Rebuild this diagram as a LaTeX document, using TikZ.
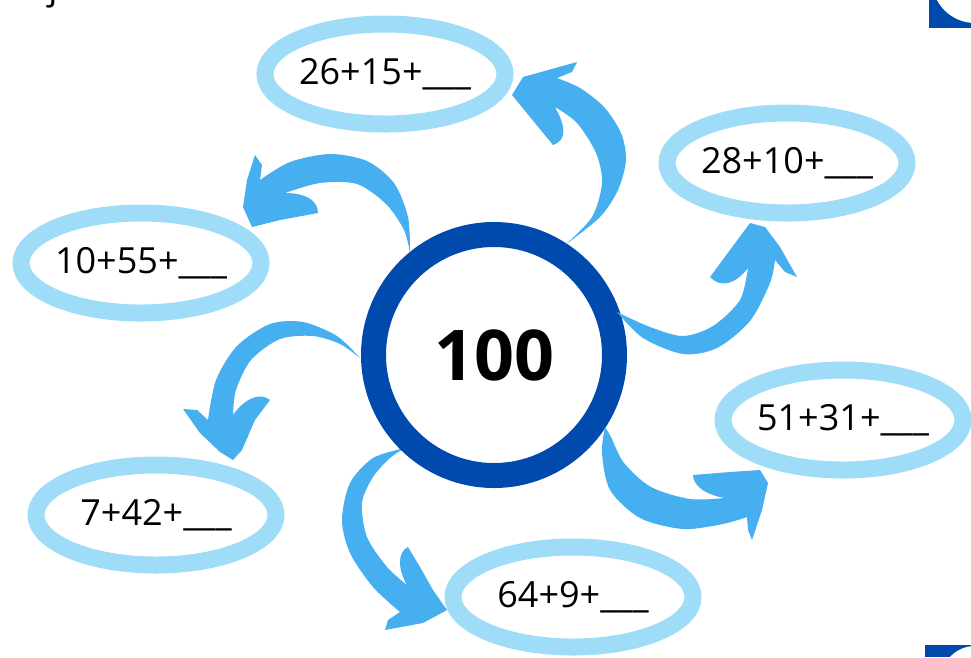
\documentclass[tikz,border=0pt]{standalone}
\usepackage{fontspec}
\setmainfont{Open Sans}
\usepackage{tikz}
\usetikzlibrary{shapes.geometric}
\definecolor{hubblue}{RGB}{0,74,173}
\definecolor{arrowblue}{RGB}{69,175,240}
\definecolor{ringblue}{RGB}{158,220,248}
\tikzset{
    hub/.style={circle, draw=hubblue, line width=25pt, fill=white, inner sep=0pt, minimum size=241pt, font=\fontsize{70}{80}\selectfont\bfseries},
    sum/.style={ellipse, draw=ringblue, line width=17pt, fill=white, inner xsep=-40pt, inner ysep=-8pt, minimum width=240pt, minimum height=100pt, font=\fontsize{36}{40}\selectfont},
    swoosh/.style={fill=arrowblue},
    corner/.style={fill=hubblue}
}

\begin{document}
\begin{tikzpicture}[x=1pt, y=-1pt]
\useasboundingbox (0,0) rectangle (971,657);

% Arrow to 64+9+ (runs under its ring)
\fill[swoosh] plot[smooth] coordinates {(405,448) (373,458) (350,483) (342,520) (350,553) (373,587) (400,612)}
    -- (388,620) -- (385,630) -- (423,623) -- (447,610) -- (433,590) -- (420,567) -- (408,547)
    .. controls (397,552) and (398,570) .. (407,585)
    -- plot[smooth] coordinates {(407,585) (387,567) (367,537) (362,503) (373,477) (390,458) (405,448)} -- cycle;

% Sums around the hub
\node[sum] (q1) at (385,74) {26+15+\_\_\_};
\node[sum] (q2) at (787,163) {28+10+\_\_\_};
\node[sum] (q3) at (141,263) {10+55+\_\_\_};
\node[sum] (q4) at (843,420) {51+31+\_\_\_};
\node[sum] (q5) at (156,515) {7+42+\_\_\_};
\node[sum] (q6) at (573,597) {64+9+\_\_\_};

% Hub
\node[hub] (hub) at (494,355) {100};

% Arrows
% to 26+15+
\fill[swoosh] plot[smooth] coordinates {(565,245) (600,217) (618,190) (626,160) (621,133) (604,107) (580,88) (557,78)}
    -- (572,72) -- (577,62) -- (523,77) -- (512,95) -- (553,145)
    .. controls (568,140) and (565,125) .. (555,107)
    -- plot[smooth] coordinates {(555,107) (577,123) (596,153) (602,183) (592,217) (565,245)} -- cycle;
% to 28+10+
\fill[swoosh] plot[smooth] coordinates {(617,312) (643,338) (683,354) (717,348) (750,321) (770,283) (775,260)}
    -- (785,272) -- (797,277) -- (780,247) -- (765,227) -- (750,223) -- (710,277)
    .. controls (720,288) and (735,285) .. (748,268)
    -- plot[smooth] coordinates {(748,268) (740,300) (713,326) (683,336) (650,327) (617,312)} -- cycle;
% to 10+55+
\fill[swoosh] plot[smooth] coordinates {(410,253) (408,217) (394,183) (367,161) (330,154) (290,162) (260,180)}
    -- (262,165) -- (255,155) -- (247,180) -- (243,207) -- (252,227) -- (280,220) -- (318,213)
    .. controls (318,200) and (305,193) .. (285,193)
    -- plot[smooth] coordinates {(285,193) (320,183) (357,184) (386,204) (404,230) (410,253)} -- cycle;
% to 7+42+
\fill[swoosh] plot[smooth] coordinates {(360,358) (337,336) (303,322) (270,324) (237,346) (216,380) (208,420)}
    -- (197,410) -- (183,409) -- (200,433) -- (220,452) -- (233,460) -- (242,450) -- (255,420) -- (270,400)
    .. controls (260,392) and (245,398) .. (233,415)
    -- plot[smooth] coordinates {(233,415) (236,390) (251,360) (280,339) (313,336) (340,344) (360,358)} -- cycle;
% to 51+31+
\fill[swoosh] plot[smooth] coordinates {(605,427) (602,453) (610,490) (640,518) (683,529) (723,524) (747,517)}
    -- (748,530) -- (752,540) -- (762,510) -- (768,483) -- (760,470) -- (730,472) -- (693,475)
    .. controls (693,485) and (705,495) .. (725,498)
    -- plot[smooth] coordinates {(725,498) (690,499) (651,487) (624,463) (611,437) (605,427)} -- cycle;

% Slide leftovers
\node[font=\fontsize{36}{40}\selectfont, inner sep=0pt, anchor=base] (cut) at (53,-1) {j};
\fill[corner] (929,0) rectangle (971,28);
\fill[white] (975,-20) circle [radius=43pt];
\fill[corner] (925,645) rectangle (971,657);
\fill[white] (975,680) circle [radius=34pt];
\end{tikzpicture}
\end{document}
